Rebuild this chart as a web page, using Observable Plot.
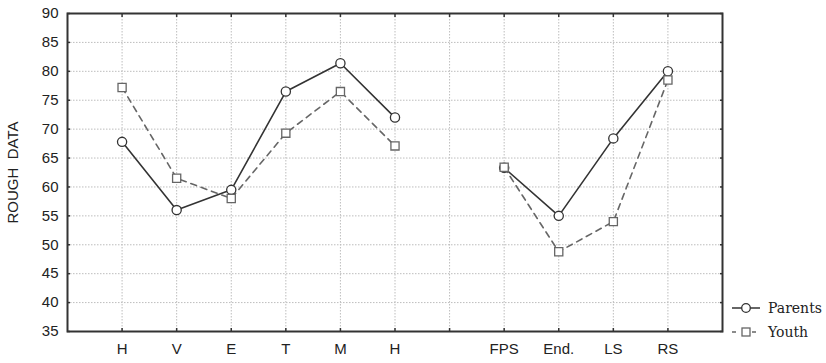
<!DOCTYPE html>
<html><head><meta charset="utf-8">
<script src="https://cdn.jsdelivr.net/npm/d3@7"></script>
<script src="https://cdn.jsdelivr.net/npm/@observablehq/plot@0.6"></script>
<style>
body{margin:0;background:#fff;}
#wrap{position:relative;width:826px;height:363px;}
#legend{position:absolute;left:731px;top:296px;font-family:"DejaVu Serif",serif;font-size:14px;color:#222;line-height:24px;}
#legend .row{display:flex;align-items:center;height:24px;}
#legend svg{margin-right:7px;}
</style></head><body><div id="wrap"><div id="chart"></div><div id="legend"></div></div>
<script>
const categories = ["H","V","E","T","M","H","","FPS","End.","LS","RS"];
const positions = [1,2,3,4,5,6,7,8,9,10,11];
const parents = [67.8,56.0,59.5,76.5,81.4,72.0,null,63.3,55.0,68.4,80.0];
const youth = [77.2,61.5,58.0,69.3,76.5,67.1,null,63.4,48.8,54.0,78.5];
const yTicks = [35,40,45,50,55,60,65,70,75,80,85,90];
const seriesNames = ["Parents","Youth"];

const rows = positions.map((p,i)=>({pos:p, cat:categories[i], parents:parents[i], youth:youth[i]}));
const gridY = yTicks.slice(1,-1);
const grid = {stroke:"#bdbdbd", strokeOpacity:1, strokeWidth:1, strokeDasharray:"1.5,1.5"};
const tickStyle = {stroke:"#333", strokeWidth:1.5};
const font = {fontFamily:"Liberation Sans, Arial, sans-serif", fontSize:15, fill:"#222"};

const plot = Plot.plot({
  width:826, height:363, marginLeft:67, marginRight:104, marginTop:13, marginBottom:32,
  style:{fontFamily:"Liberation Sans, Arial, sans-serif", fontSize:"15px", color:"#222", background:"#fff"},
  x:{type:"linear", domain:[0,12]},
  y:{domain:[35,90]},
  marks:[
    Plot.gridX(positions, grid),
    Plot.gridY(gridY, grid),
    Plot.lineY(rows, {x:"pos", y:"parents", stroke:"#333", strokeWidth:1.6}),
    Plot.lineY(rows, {x:"pos", y:"youth", stroke:"#666", strokeWidth:1.6, strokeDasharray:"6,5"}),
    Plot.dot(rows, {x:"pos", y:"parents", r:4.6, stroke:"#333", fill:"white", strokeWidth:1.3}),
    Plot.dot(rows, {x:"pos", y:"youth", symbol:"square", r:4.6, stroke:"#666", fill:"white", strokeWidth:1.3}),
    Plot.axisX(positions.filter((p,i)=>categories[i]), {anchor:"bottom", tickSize:0, tickPadding:12, tickFormat:(d)=>categories[d-1], label:null, ...font}),
    Plot.axisX(positions, {anchor:"bottom", tickSize:-3, tickFormat:()=>"", label:null, ...tickStyle}),
    Plot.axisX(positions, {anchor:"top", tickSize:-3, tickFormat:()=>"", label:null, ...tickStyle}),
    Plot.axisY(yTicks, {anchor:"left", tickSize:0, tickPadding:9, label:null, ...font}),
    Plot.axisY(yTicks, {anchor:"left", tickSize:-3, tickFormat:()=>"", label:null, ...tickStyle}),
    Plot.axisY(yTicks, {anchor:"right", tickSize:-3, tickFormat:()=>"", label:null, ...tickStyle}),
    Plot.text(["ROUGH  DATA"], {frameAnchor:"left", textAnchor:"middle", dx:-54, rotate:-90, text:d=>d, ...font}),
    Plot.frame({stroke:"#333", strokeWidth:2})
  ]
});
document.getElementById("chart").append(plot);

const legend = d3.select("#legend");
seriesNames.forEach((name, i) => {
  const row = legend.append("div").attr("class","row");
  const svg = row.append("svg").attr("width",30).attr("height",14);
  if (i === 0) {
    svg.append("line").attr("x1",1).attr("x2",29).attr("y1",7).attr("y2",7).attr("stroke","#333").attr("stroke-width",1.5);
    svg.append("circle").attr("cx",15).attr("cy",7).attr("r",4.3).attr("fill","white").attr("stroke","#333").attr("stroke-width",1.3);
  } else {
    svg.append("line").attr("x1",1).attr("x2",29).attr("y1",7).attr("y2",7).attr("stroke","#666").attr("stroke-width",1.5).attr("stroke-dasharray","4,6");
    svg.append("rect").attr("x",11).attr("y",3).attr("width",8).attr("height",8).attr("fill","white").attr("stroke","#666").attr("stroke-width",1.3);
  }
  row.append("span").text(name);
});
</script></body></html>
